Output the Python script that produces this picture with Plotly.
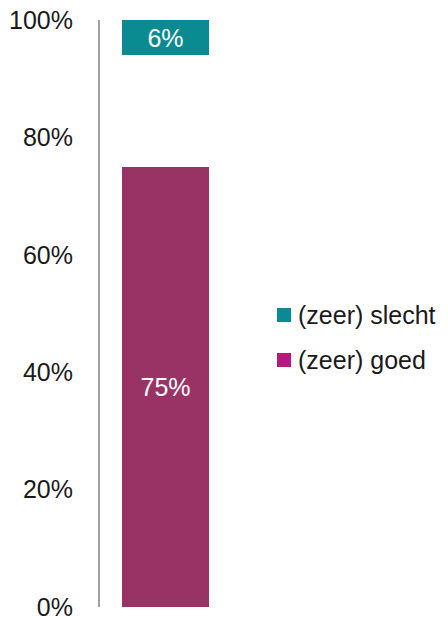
import plotly.graph_objects as go

categories = ["Oordeel"]
series_names = ["(zeer) goed", "neutraal", "(zeer) slecht"]
goed = [75]
neutraal = [19]
slecht = [6]
tick_values = [0, 20, 40, 60, 80, 100]
tick_labels = ["0%", "20%", "40%", "60%", "80%", "100%"]

BAR_GOED = "#993366"
BAR_SLECHT = "#0a8a91"
LEG_GOED = "#b5197e"
FONT = "Liberation Sans, Arial, sans-serif"
FS = 25

W, H = 448, 617
L, R, T, B = 100, 217, 20, 10
pw, ph = W - L - R, H - T - B

def px_x(x):
    return (x - L) / pw

def px_y(y):
    return (H - B - y) / ph

fig = go.Figure()
fig.add_trace(go.Bar(x=categories, y=goed, name=series_names[0], marker_color=BAR_GOED,
                     marker_line_width=0,
                     text=[f"{v}%" for v in goed], textposition="inside",
                     insidetextanchor="middle", textangle=0,
                     textfont=dict(color="white", size=FS, family=FONT),
                     width=87 / pw, showlegend=False, hoverinfo="skip"))
fig.add_trace(go.Bar(x=categories, y=neutraal, name=series_names[1],
                     marker_color="rgba(0,0,0,0)", marker_line_width=0, width=87 / pw,
                     showlegend=False, hoverinfo="skip"))
fig.add_trace(go.Bar(x=categories, y=slecht, name=series_names[2], marker_color=BAR_SLECHT,
                     marker_line_width=0,
                     text=[f"{v}%" for v in slecht], textposition="inside",
                     insidetextanchor="middle", textangle=0,
                     textfont=dict(color="white", size=FS, family=FONT),
                     width=87 / pw, showlegend=False, hoverinfo="skip"))

# manual legend (top item = slecht, bottom = goed)
legend_items = [(series_names[2], BAR_SLECHT, 315), (series_names[0], LEG_GOED, 360)]
for name, col, cy in legend_items:
    fig.add_shape(type="rect", xref="paper", yref="paper",
                  x0=px_x(277), x1=px_x(291), y0=px_y(cy + 7), y1=px_y(cy - 7),
                  fillcolor=col, line_width=0)
    fig.add_annotation(xref="paper", yref="paper", x=px_x(296), y=px_y(cy),
                       text=name, showarrow=False, xanchor="left", yanchor="middle",
                       font=dict(size=FS, color="#1a1a1a", family=FONT))

fig.update_layout(
    width=W, height=H, barmode="stack",
    margin=dict(l=L, r=R, t=T, b=B, pad=0, autoexpand=False),
    plot_bgcolor="white", paper_bgcolor="white",
    font=dict(family=FONT, size=FS, color="#1a1a1a"),
    xaxis=dict(range=[-0.5, 0.5], showticklabels=False, showgrid=False,
               zeroline=False, showline=False, fixedrange=True, automargin=False),
    yaxis=dict(range=[0, 100], tickvals=tick_values, ticktext=tick_labels,
               showgrid=False, zeroline=False, showline=True, linecolor="#a0a0a0",
               linewidth=2, ticks="", ticklabelstandoff=20, ticklabeloverflow="allow",
               automargin=False,
               tickfont=dict(size=FS, color="#1a1a1a", family=FONT)),
    showlegend=False,
)

fig.write_html("out.html", config={"displayModeBar": False},
               post_script="document.body.style.margin='0';document.body.style.overflow='hidden';")
